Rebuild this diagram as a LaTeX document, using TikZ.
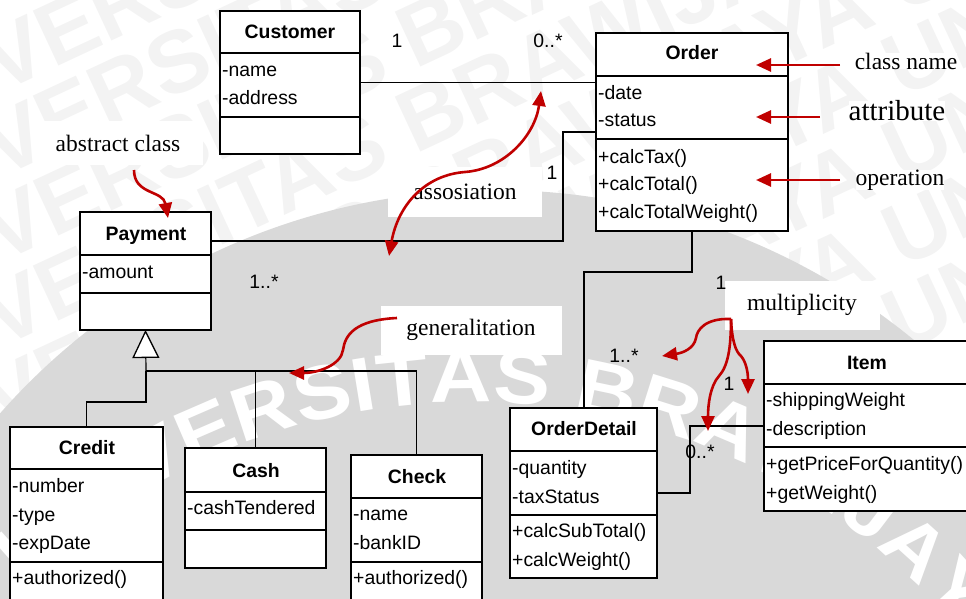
\documentclass[tikz,border=0pt]{standalone}
\usepackage{fontspec}
\setmainfont{Liberation Serif}
\newfontfamily\umlsans{Liberation Sans}
\newfontfamily\wmfont[FakeStretch=1.12]{Liberation Sans}
\usetikzlibrary{arrows.meta,decorations.text}

\definecolor{wmgrey}{RGB}{217,217,217}
\definecolor{wmfaint}{RGB}{243,243,243}
\definecolor{notered}{RGB}{192,0,0}

\tikzset{
  classframe/.style={draw=black, line width=1.7pt, fill=white, inner sep=0pt, outer sep=0pt},
  classline/.style={line width=1.7pt},
  conn/.style={draw=black, line width=1.2pt},
  member/.style={anchor=base west, inner sep=0pt, font=\umlsans\fontsize{19.4}{23}\selectfont},
  ctitle/.style={anchor=base, inner sep=0pt, font=\umlsans\bfseries\fontsize{19.4}{23}\selectfont},
  mult/.style={inner sep=0pt, font=\umlsans\fontsize{19.4}{23}\selectfont},
  notebox/.style={fill=white, inner sep=0pt, font=\fontsize{23.5}{28}\selectfont},
  pointer/.style={draw=notered, line width=2.6pt, -{Triangle[length=15pt,width=13pt]}},
  twopointer/.style={draw=notered, line width=2.6pt, {Triangle[length=15pt,width=13pt]}-{Triangle[length=15pt,width=13pt]}},
}

% class frame: name, x1, y1, x2, y2, first and second compartment lines
\newcommand{\umlframe}[7]{%
  \node[classframe, anchor=north west,
        minimum width={(#4-#2)*1pt}, minimum height={(#5-#3)*1pt}] (#1) at (#2,#3) {};
  \draw[classline] (#2,#6) -- (#4,#6);
  \draw[classline] (#2,#7) -- (#4,#7);
}

\begin{document}
\begin{tikzpicture}[x=1pt,y=-1pt]
\useasboundingbox (0,0) rectangle (966,599);
\clip (0,0) rectangle (966,599);

% faint background lettering
\foreach \k in {0,...,13} {
  \node[rotate=25, anchor=west, text=wmfaint, inner sep=0pt,
        font=\umlsans\bfseries\fontsize{88}{88}\selectfont] (wm\k) at (-150,-40+85*\k)
        {UNIVERSITAS BRAWIJAYA UNIVERSITAS BRAWIJAYA};
}

% emblem disc with its ring lettering
\fill[wmgrey] (495,850) circle[radius=660];
\begin{scope}[shift={(470pt,-1040pt)}, y=1pt]
  \path[decorate, decoration={text along path,
        text={|\wmfont\bfseries\fontsize{76}{76}\selectfont|UNIVERSITAS BRAWIJAYA},
        text color=white, text align=center}]
        (144.4:638) arc[start angle=144.4, end angle=24.4, radius=638];
\end{scope}

% explanatory labels
\node[notebox, minimum width=170pt, minimum height=44pt] (nAbs) at (118,143) {abstract class};
\node[notebox, minimum width=154pt, minimum height=50pt] (nAssoc) at (465,192) {assosiation};
\node[notebox, minimum width=181pt, minimum height=49pt] (nGen) at (471,330) {generalitation};
\node[notebox, minimum width=155pt, minimum height=49pt] (nMult) at (802,305) {multiplicity};
\node[notebox] (nCls) at (906,61) {class name};
\node[notebox, font=\fontsize{29}{34}\selectfont] (nAttr) at (897,111) {attribute};
\node[notebox] (nOp) at (900,180) {operation};

% class frames
\umlframe{cust}{220}{11}{360}{154}{53}{117}
\umlframe{order}{596}{33}{788}{231}{76}{139}
\umlframe{pay}{80}{212}{211}{330}{255}{293}
\umlframe{cred}{10}{427}{163}{620}{469}{562}
\umlframe{cash}{185}{448}{326}{568}{492}{530}
\umlframe{check}{351}{455}{482}{620}{498}{562}
\umlframe{od}{510}{408}{657}{578}{451}{515}
\umlframe{item}{764}{341}{980}{511}{384}{447}

% associations
\draw[conn] (cust.east) -- (cust.east -| order.west);

\coordinate (po1) at (563,241);
\coordinate (po2) at (563,132);
\draw[conn] (po1 -| pay.east) -- (po1) -- (po2) -- (po2 -| order.west);

\coordinate (oo1) at (692,272);
\coordinate (oo2) at (584,272);
\draw[conn] (oo1 |- order.south) -- (oo1) -- (oo2) -- (oo2 |- od.north);

\coordinate (oi1) at (690,493);
\coordinate (oi2) at (690,426);
\draw[conn] (oi1 -| od.east) -- (oi1) -- (oi2) -- (oi2 -| item.west);

% generalization tree
\coordinate (gj) at (146,371);
\coordinate (gk) at (146,402);
\draw[conn, -{Triangle[length=28pt,width=27pt,fill=white,line width=1.3pt]}] (gj) -- (pay.south);
\draw[conn] (cred.north) |- (gk) -- (gj);
\draw[conn] (cash.north) |- (gj);
\draw[conn] (check.north) |- (gj);

% class texts
\node[ctitle] (custT) at (290,39) {Customer};
\node[member] (custA1) at (222,77) {-name};
\node[member] (custA2) at (222,105) {-address};

\node[ctitle] (orderT) at (692,60) {Order};
\node[member] (orderA1) at (598,100) {-date};
\node[member] (orderA2) at (598,127) {-status};
\node[member] (orderO1) at (598,163) {+calcTax()};
\node[member] (orderO2) at (598,190) {+calcTotal()};
\node[member] (orderO3) at (598,218) {+calcTotalWeight()};

\node[ctitle] (payT) at (146,240) {Payment};
\node[member] (payA1) at (82,278) {-amount};

\node[ctitle] (credT) at (87,454) {Credit};
\node[member] (credA1) at (12,492) {-number};
\node[member] (credA2) at (12,521) {-type};
\node[member] (credA3) at (12,549) {-expDate};
\node[member] (credO1) at (12,584) {+authorized()};

\node[ctitle] (cashT) at (256,477) {Cash};
\node[member] (cashA1) at (187,514) {-cashTendered};

\node[ctitle] (checkT) at (417,483) {Check};
\node[member] (checkA1) at (353,520) {-name};
\node[member] (checkA2) at (353,549) {-bankID};
\node[member] (checkO1) at (353,584) {+authorized()};

\node[ctitle] (odT) at (584,435) {OrderDetail};
\node[member] (odA1) at (512,474) {-quantity};
\node[member] (odA2) at (512,503) {-taxStatus};
\node[member] (odO1) at (512,537) {+calcSubTotal()};
\node[member] (odO2) at (512,566) {+calcWeight()};

\node[ctitle] (itemT) at (867,369) {Item};
\node[member] (itemA1) at (766,406) {-shippingWeight};
\node[member] (itemA2) at (766,435) {-description};
\node[member] (itemO1) at (766,470) {+getPriceForQuantity()};
\node[member] (itemO2) at (766,499) {+getWeight()};

% multiplicities
\node[mult] (m1) at (397,41) {1};
\node[mult] (m2) at (548,41) {0..*};
\node[mult] (m3) at (552,173) {1};
\node[mult] (m4) at (264,282) {1..*};
\node[mult] (m5) at (721,283) {1};
\node[mult] (m6) at (624,356) {1..*};
\node[mult] (m7) at (729,384) {1};
\node[mult] (m8) at (700,452) {0..*};

% red pointers
\coordinate (sCls) at (840,65);  \coordinate (tCls) at (756,65);
\coordinate (sAttr) at (820,117); \coordinate (tAttr) at (756,117);
\coordinate (sOp) at (840,180);  \coordinate (tOp) at (756,180);
\draw[pointer] (sCls) -- (tCls);
\draw[pointer] (sAttr) -- (tAttr);
\draw[pointer] (sOp) -- (tOp);

\coordinate (sAbs) at (134,170); \coordinate (tAbs) at (168,218);
\draw[pointer] (sAbs) .. controls (134,195) and (163,190) .. (tAbs);

\coordinate (tAs1) at (389,256); \coordinate (tAs2) at (541,91);
\draw[twopointer] (tAs1) .. controls (398,205) and (425,175) .. (465,172)
                  .. controls (505,169) and (535,135) .. (tAs2);

\coordinate (sGen) at (397,318); \coordinate (tGen) at (289,373);
\draw[pointer] (sGen) .. controls (355,320) and (345,335) .. (343,350)
               .. controls (341,365) and (318,373) .. (tGen);

\coordinate (sMul) at (731,319);
\coordinate (tMul1) at (662,356);
\coordinate (tMul2) at (708,431);
\coordinate (tMul3) at (748,394);
\draw[pointer] (sMul) .. controls (705,318) and (697,330) .. (696,338)
               .. controls (694,349) and (682,353) .. (tMul1);
\draw[pointer] (sMul) .. controls (731,348) and (728,366) .. (719,376)
               .. controls (710,386) and (708,405) .. (tMul2);
\draw[pointer] (sMul) .. controls (732,342) and (736,352) .. (741,356)
               .. controls (746,362) and (748,372) .. (tMul3);
\end{tikzpicture}
\end{document}
